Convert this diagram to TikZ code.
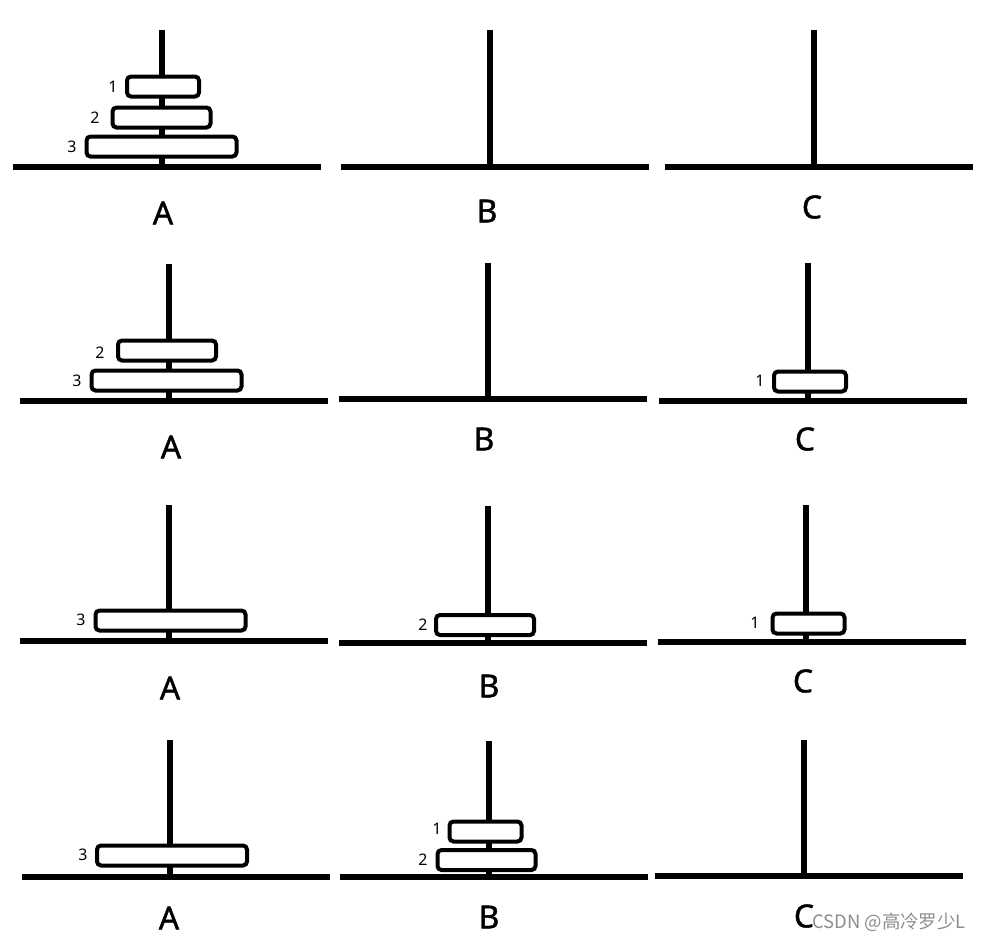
\documentclass[tikz,border=0pt]{standalone}
\usepackage{fontspec}
\setmainfont{Noto Sans}
\newfontfamily\pegfont{Noto Sans}[FakeBold=1.3]
\newfontfamily\cjkfont{Noto Sans CJK SC}
\begin{document}
\begin{tikzpicture}[
        x=1bp, y=-1bp,
        rod/.style={line width=5.5bp},
        disk/.style={draw, line width=4bp, rounded corners=4bp, fill=white,
            inner sep=0pt, minimum height=20bp},
        small/.style={disk, minimum width=72bp},
        mid/.style={disk, minimum width=98bp},
        big/.style={disk, minimum width=150bp},
        num/.style={font=\fontsize{16}{16}\selectfont},
        peg/.style={font=\pegfont\fontsize{32}{32}\selectfont}
    ]
    \useasboundingbox (0,0) rectangle (984,942);

    % poles and bases: pole x / top / base y / left / right
    \foreach \px/\pt/\pb/\bl/\br in {
        162/30/167/13/321, 490/30/167/341/649, 814/30/167/665/973,
        169/264/401/20/328, 488/263/399/339/647, 808/263/401/659/967,
        169/505/641/20/328, 488/506/643/339/647, 806/505/642/658/966,
        170/740/877/22/330, 489/741/877/340/648, 804/740/876/655/963}
    {
        \draw[rod] (\px,\pt) -- (\px,\pb);
        \draw[rod] (\bl,\pb) -- (\br,\pb);
    }

    % row 1
    \node[small] (a1d1) at (163,86.5) {};
    \node[mid] (a1d2) at (161.5,117.5) {};
    \node[big] (a1d3) at (161.5,146.5) {};
    \node[num] at (113,87) {1};
    \node[num] at (95,118) {2};
    \node[num] at (72,147) {3};
    \node[peg] (a1) at (163,213) {A};
    \node[peg] (b1) at (487,211) {B};
    \node[peg] (c1) at (812,207) {C};

    % row 2
    \node[mid] (a2d2) at (167,350.5) {};
    \node[big] (a2d3) at (166.5,380.5) {};
    \node[small] (c2d1) at (810,381.5) {};
    \node[num] at (100,353) {2};
    \node[num] at (77,381) {3};
    \node[num] at (760,381) {1};
    \node[peg] (a2) at (171,447) {A};
    \node[peg] (b2) at (484,439) {B};
    \node[peg] (c2) at (805,439) {C};

    % row 3
    \node[big] (a3d3) at (170.5,620.5) {};
    \node[mid] (b3d2) at (485,625) {};
    \node[small] (c3d1) at (808.5,623.5) {};
    \node[num] at (81,620) {3};
    \node[num] at (423,625) {2};
    \node[num] at (755,623) {1};
    \node[peg] (a3) at (170,688) {A};
    \node[peg] (b3) at (489,686) {B};
    \node[peg] (c3) at (803,681) {C};

    % row 4
    \node[big] (a4d3) at (172,855.5) {};
    \node[small] (b4d1) at (485.5,831.5) {};
    \node[mid] (b4d2) at (486.5,860) {};
    \node[num] at (83,855) {3};
    \node[num] at (437,829) {1};
    \node[num] at (423,860) {2};
    \node[peg] (a4) at (169,918) {A};
    \node[peg] (b4) at (489,917) {B};
    \node[peg] (c4) at (804,916) {C};

    \node[anchor=west, inner sep=0pt, text=black!45,
        font=\cjkfont\fontsize{18.5}{18.5}\selectfont] (mark) at (812,922) {CSDN @高冷罗少L};
\end{tikzpicture}
\end{document}
